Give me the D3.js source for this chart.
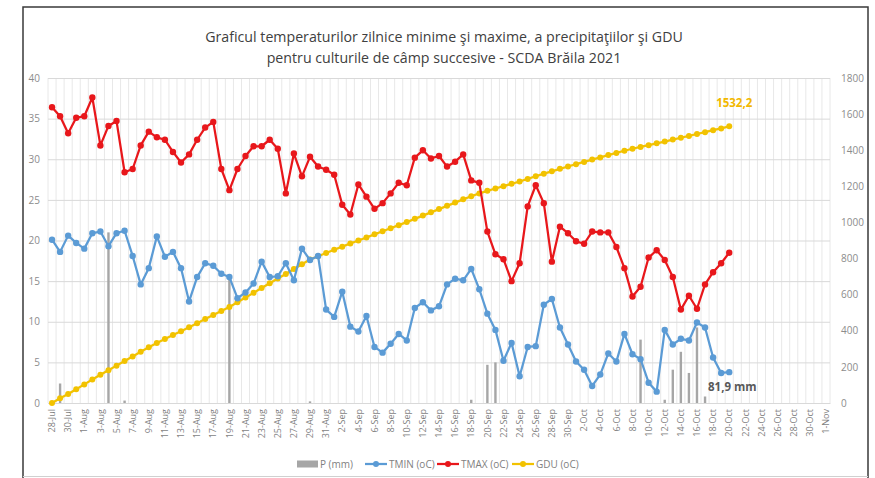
<!DOCTYPE html>
<html>
<head>
<meta charset="utf-8">
<script src="https://cdn.jsdelivr.net/npm/d3@7"></script>
<style>
  html, body { margin: 0; padding: 0; background: #fff; }
  svg { display: block; font-family: "Open Sans", "Noto Sans", sans-serif; }
</style>
</head>
<body>
<svg id="chart" width="875" height="478"></svg>
<script>
// ---- DATA ----
const dates = [
  "28-Jul","29-Jul","30-Jul","31-Jul",
  "1-Aug","2-Aug","3-Aug","4-Aug","5-Aug","6-Aug","7-Aug","8-Aug","9-Aug","10-Aug",
  "11-Aug","12-Aug","13-Aug","14-Aug","15-Aug","16-Aug","17-Aug","18-Aug","19-Aug","20-Aug",
  "21-Aug","22-Aug","23-Aug","24-Aug","25-Aug","26-Aug","27-Aug","28-Aug","29-Aug","30-Aug","31-Aug",
  "1-Sep","2-Sep","3-Sep","4-Sep","5-Sep","6-Sep","7-Sep","8-Sep","9-Sep","10-Sep",
  "11-Sep","12-Sep","13-Sep","14-Sep","15-Sep","16-Sep","17-Sep","18-Sep","19-Sep","20-Sep",
  "21-Sep","22-Sep","23-Sep","24-Sep","25-Sep","26-Sep","27-Sep","28-Sep","29-Sep","30-Sep",
  "1-Oct","2-Oct","3-Oct","4-Oct","5-Oct","6-Oct","7-Oct","8-Oct","9-Oct","10-Oct",
  "11-Oct","12-Oct","13-Oct","14-Oct","15-Oct","16-Oct","17-Oct","18-Oct","19-Oct","20-Oct",
  "21-Oct","22-Oct","23-Oct","24-Oct","25-Oct","26-Oct","27-Oct","28-Oct","29-Oct","30-Oct","31-Oct",
  "1-Nov"
];

const tmax = [
  36.4,35.3,33.2,35.1,35.3,37.6,31.7,34.1,34.7,28.4,
  28.8,31.7,33.4,32.7,32.4,30.9,29.6,30.6,32.4,33.9,
  34.6,28.8,26.2,28.8,30.4,31.6,31.6,32.4,31.3,25.8,
  30.7,27.9,30.3,29.1,28.7,28.1,24.4,23.2,26.9,25.4,
  23.9,24.6,25.8,27.1,26.8,30.2,31.1,30.1,30.4,29.1,
  29.7,30.6,27.4,27.1,21.1,18.3,17.7,15.0,17.2,24.2,
  26.8,24.6,17.4,21.7,20.9,19.9,19.6,21.1,21.0,21.0,
  19.2,16.6,13.1,14.3,17.9,18.8,17.6,15.5,11.5,13.2,
  11.6,14.6,16.1,17.2,18.5
];

const tmin = [
  20.1,18.6,20.6,19.7,19.0,20.9,21.1,19.3,20.9,21.2,
  18.1,14.6,16.6,20.5,18.0,18.6,16.6,12.5,15.5,17.2,
  16.9,15.9,15.5,12.9,13.6,14.7,17.4,15.5,15.6,17.2,
  15.1,19.0,17.6,18.1,11.5,10.6,13.7,9.4,8.8,10.7,
  6.9,6.2,7.3,8.5,7.7,11.7,12.4,11.4,11.9,14.6,
  15.3,15.1,16.5,14.0,11.0,9.0,5.2,7.4,3.3,6.9,
  7.0,12.1,12.8,9.3,7.2,5.1,4.1,2.1,3.5,6.1,
  5.1,8.5,6.0,5.4,2.5,1.4,9.0,7.2,7.9,7.7,
  9.9,9.3,5.6,3.7,3.8
];

const gdu = [
  0,26,50,76,103,130,156,181,207,233,
  258,284,309,332,354,376,398,420,442,465,
  488,510,532,558,584,610,637,663,689,715,
  742,768,795,813,831,849,866,883,900,917,
  934,951,968,985,1002,1020,1038,1056,1074,1092,
  1110,1128,1145,1161,1175,1188,1201,1214,1227,1241,
  1256,1270,1283,1297,1310,1323,1335,1348,1360,1373,
  1385,1397,1408,1418,1428,1438,1448,1459,1469,1479,
  1490,1500,1511,1521,1532.2
];

const precip = [
  0,2.4,0,0,0,0,0,21.0,0,0.3,
  0,0,0,0,0,0,0,0,0,0,
  0,0,15.5,0,0,0,0,0,0,0,
  0,0,0.2,0,0,0,0,0,0,0,
  0,0,0,0,0,0,0,0,0,0,
  0,0,0.4,0,4.7,5.0,0,0,0,0,
  0,0,0,0,0,0,0,0,0,0,
  0,0,0,7.8,0,0,0.4,4.1,6.3,3.7,
  9.3,0.8,0,0,0
];

const leftTicks = [0,5,10,15,20,25,30,35,40];
const rightTicks = [0,200,400,600,800,1000,1200,1400,1600,1800];
const titleLines = [
  "Graficul temperaturilor zilnice minime şi maxime, a precipitaţiilor şi GDU",
  "pentru culturile de câmp succesive - SCDA Brăila 2021"
];
const gduLabel = "1532,2";
const precipLabel = "81,9 mm";
const legendItems = ["P (mm)", "TMIN (oC)", "TMAX (oC)", "GDU (oC)"];

// ---- LAYOUT ----
const svg = d3.select("#chart");
const W = 875, H = 478;
const plot = { left: 48, right: 830, top: 78, bottom: 403 };
const colors = { tmin: "#5b9bd5", tmax: "#e8171b", gdu: "#f2c200", p: "#a6a6a6" };

svg.append("rect").attr("x", 0).attr("y", 0).attr("width", W).attr("height", H).attr("fill", "#fff");

const x = d3.scaleBand().domain(dates).range([plot.left, plot.right]).paddingInner(0).paddingOuter(0);
const yL = d3.scaleLinear().domain([0, 40]).range([plot.bottom, plot.top]);
const yR = d3.scaleLinear().domain([0, 1800]).range([plot.bottom, plot.top]);
const cx = i => x(dates[i]) + x.bandwidth() / 2;

// vertical gridlines (category boundaries)
const vg = svg.append("g");
dates.forEach((d, i) => {
  vg.append("line")
    .attr("x1", x(d)).attr("x2", x(d))
    .attr("y1", plot.top).attr("y2", plot.bottom)
    .attr("stroke", "#e8e8e8").attr("stroke-width", 1);
});
vg.append("line").attr("x1", plot.right).attr("x2", plot.right)
  .attr("y1", plot.top).attr("y2", plot.bottom).attr("stroke", "#e8e8e8");

// horizontal gridlines via left axis
const gy = svg.append("g").attr("transform", `translate(${plot.left},0)`)
  .call(d3.axisLeft(yL).tickValues(leftTicks).tickSize(-(plot.right - plot.left)).tickPadding(8));
gy.select(".domain").remove();
gy.selectAll(".tick line").attr("stroke", "#d9d9d9");
gy.selectAll(".tick text").attr("fill", "#8c8c8c").style("font-size", "10px")
  .style("font-family", "Open Sans, sans-serif");

// right axis
const gr = svg.append("g").attr("transform", `translate(${plot.right},0)`)
  .call(d3.axisRight(yR).tickValues(rightTicks).tickFormat(d3.format("d")).tickSize(0).tickPadding(11));
gr.select(".domain").remove();
gr.selectAll(".tick text").attr("fill", "#8c8c8c").style("font-size", "10px")
  .style("font-family", "Open Sans, sans-serif");

// bottom axis
const gx = svg.append("g").attr("transform", `translate(0,${plot.bottom})`)
  .call(d3.axisBottom(x).tickValues(dates.filter((d, i) => i % 2 === 0)).tickSize(0));
gx.select(".domain").attr("stroke", "#d9d9d9");
gx.selectAll(".tick text")
  .attr("fill", "#7f7f7f").style("font-size", "9px").style("font-family", "Open Sans, sans-serif")
  .attr("transform", "rotate(-90)")
  .attr("text-anchor", "end")
  .attr("x", -6).attr("y", 0).attr("dy", "0.35em");

// precipitation bars
svg.append("g").selectAll("rect").data(precip).join("rect")
  .attr("x", (d, i) => cx(i) - 1.2)
  .attr("width", 2.4)
  .attr("y", d => yL(d))
  .attr("height", d => yL(0) - yL(d))
  .attr("fill", colors.p);

function drawSeries(values, scale, color, r) {
  const line = d3.line().x((d, i) => cx(i)).y(d => scale(d));
  svg.append("path").datum(values).attr("d", line)
    .attr("fill", "none").attr("stroke", color).attr("stroke-width", 2.25)
    .attr("stroke-linejoin", "round");
  svg.append("g").selectAll("circle").data(values).join("circle")
    .attr("cx", (d, i) => cx(i)).attr("cy", d => scale(d)).attr("r", r)
    .attr("fill", color);
}
drawSeries(gdu, yR, colors.gdu, 3);
drawSeries(tmin, yL, colors.tmin, 3.2);
drawSeries(tmax, yL, colors.tmax, 3.2);

// data labels
const lastI = gdu.length - 1;
svg.append("text").attr("x", cx(lastI) + 5).attr("y", yR(gdu[lastI]) - 19)
  .attr("text-anchor", "middle").attr("fill", "#f2b800")
  .style("font-size", "11.5px").style("font-weight", "bold")
  .text(gduLabel);
svg.append("text").attr("x", 708).attr("y", 391)
  .attr("fill", "#595959")
  .style("font-size", "11.5px").style("font-weight", "bold")
  .text(precipLabel);

// title
svg.append("g").selectAll("text").data(titleLines).join("text")
  .attr("x", 444).attr("y", (d, i) => 42 + i * 21)
  .attr("text-anchor", "middle").attr("fill", "#404040")
  .style("font-size", "14.2px")
  .text(d => d);

// legend
const legendX = [297, 365, 437, 512];
const lg = svg.append("g").attr("transform", "translate(0,464)");
legendItems.forEach((t, k) => {
  const g = lg.append("g").attr("transform", `translate(${legendX[k]},0)`);
  if (k === 0) {
    g.append("rect").attr("x", 0).attr("y", -3.5).attr("width", 21).attr("height", 7).attr("fill", colors.p);
  } else {
    const c = [null, colors.tmin, colors.tmax, colors.gdu][k];
    g.append("line").attr("x1", 0).attr("x2", 22).attr("y1", 0).attr("y2", 0)
      .attr("stroke", c).attr("stroke-width", 2.25);
    g.append("circle").attr("cx", 11).attr("cy", 0).attr("r", 3).attr("fill", c);
  }
  g.append("text").attr("x", k === 0 ? 23 : 24).attr("y", 0).attr("dy", "0.35em")
    .attr("fill", "#7f7f7f").style("font-size", "10px").text(t);
});

// frame
svg.append("path")
  .attr("d", `M23,${H} L23,7 L868,7 L868,${H}`)
  .attr("fill", "none").attr("stroke", "#3a3a3a").attr("stroke-width", 1.5);
svg.append("line").attr("x1", 23).attr("x2", 868).attr("y1", 476.5).attr("y2", 476.5)
  .attr("stroke", "#d0d0d0").attr("stroke-width", 1);
</script>
</body>
</html>
